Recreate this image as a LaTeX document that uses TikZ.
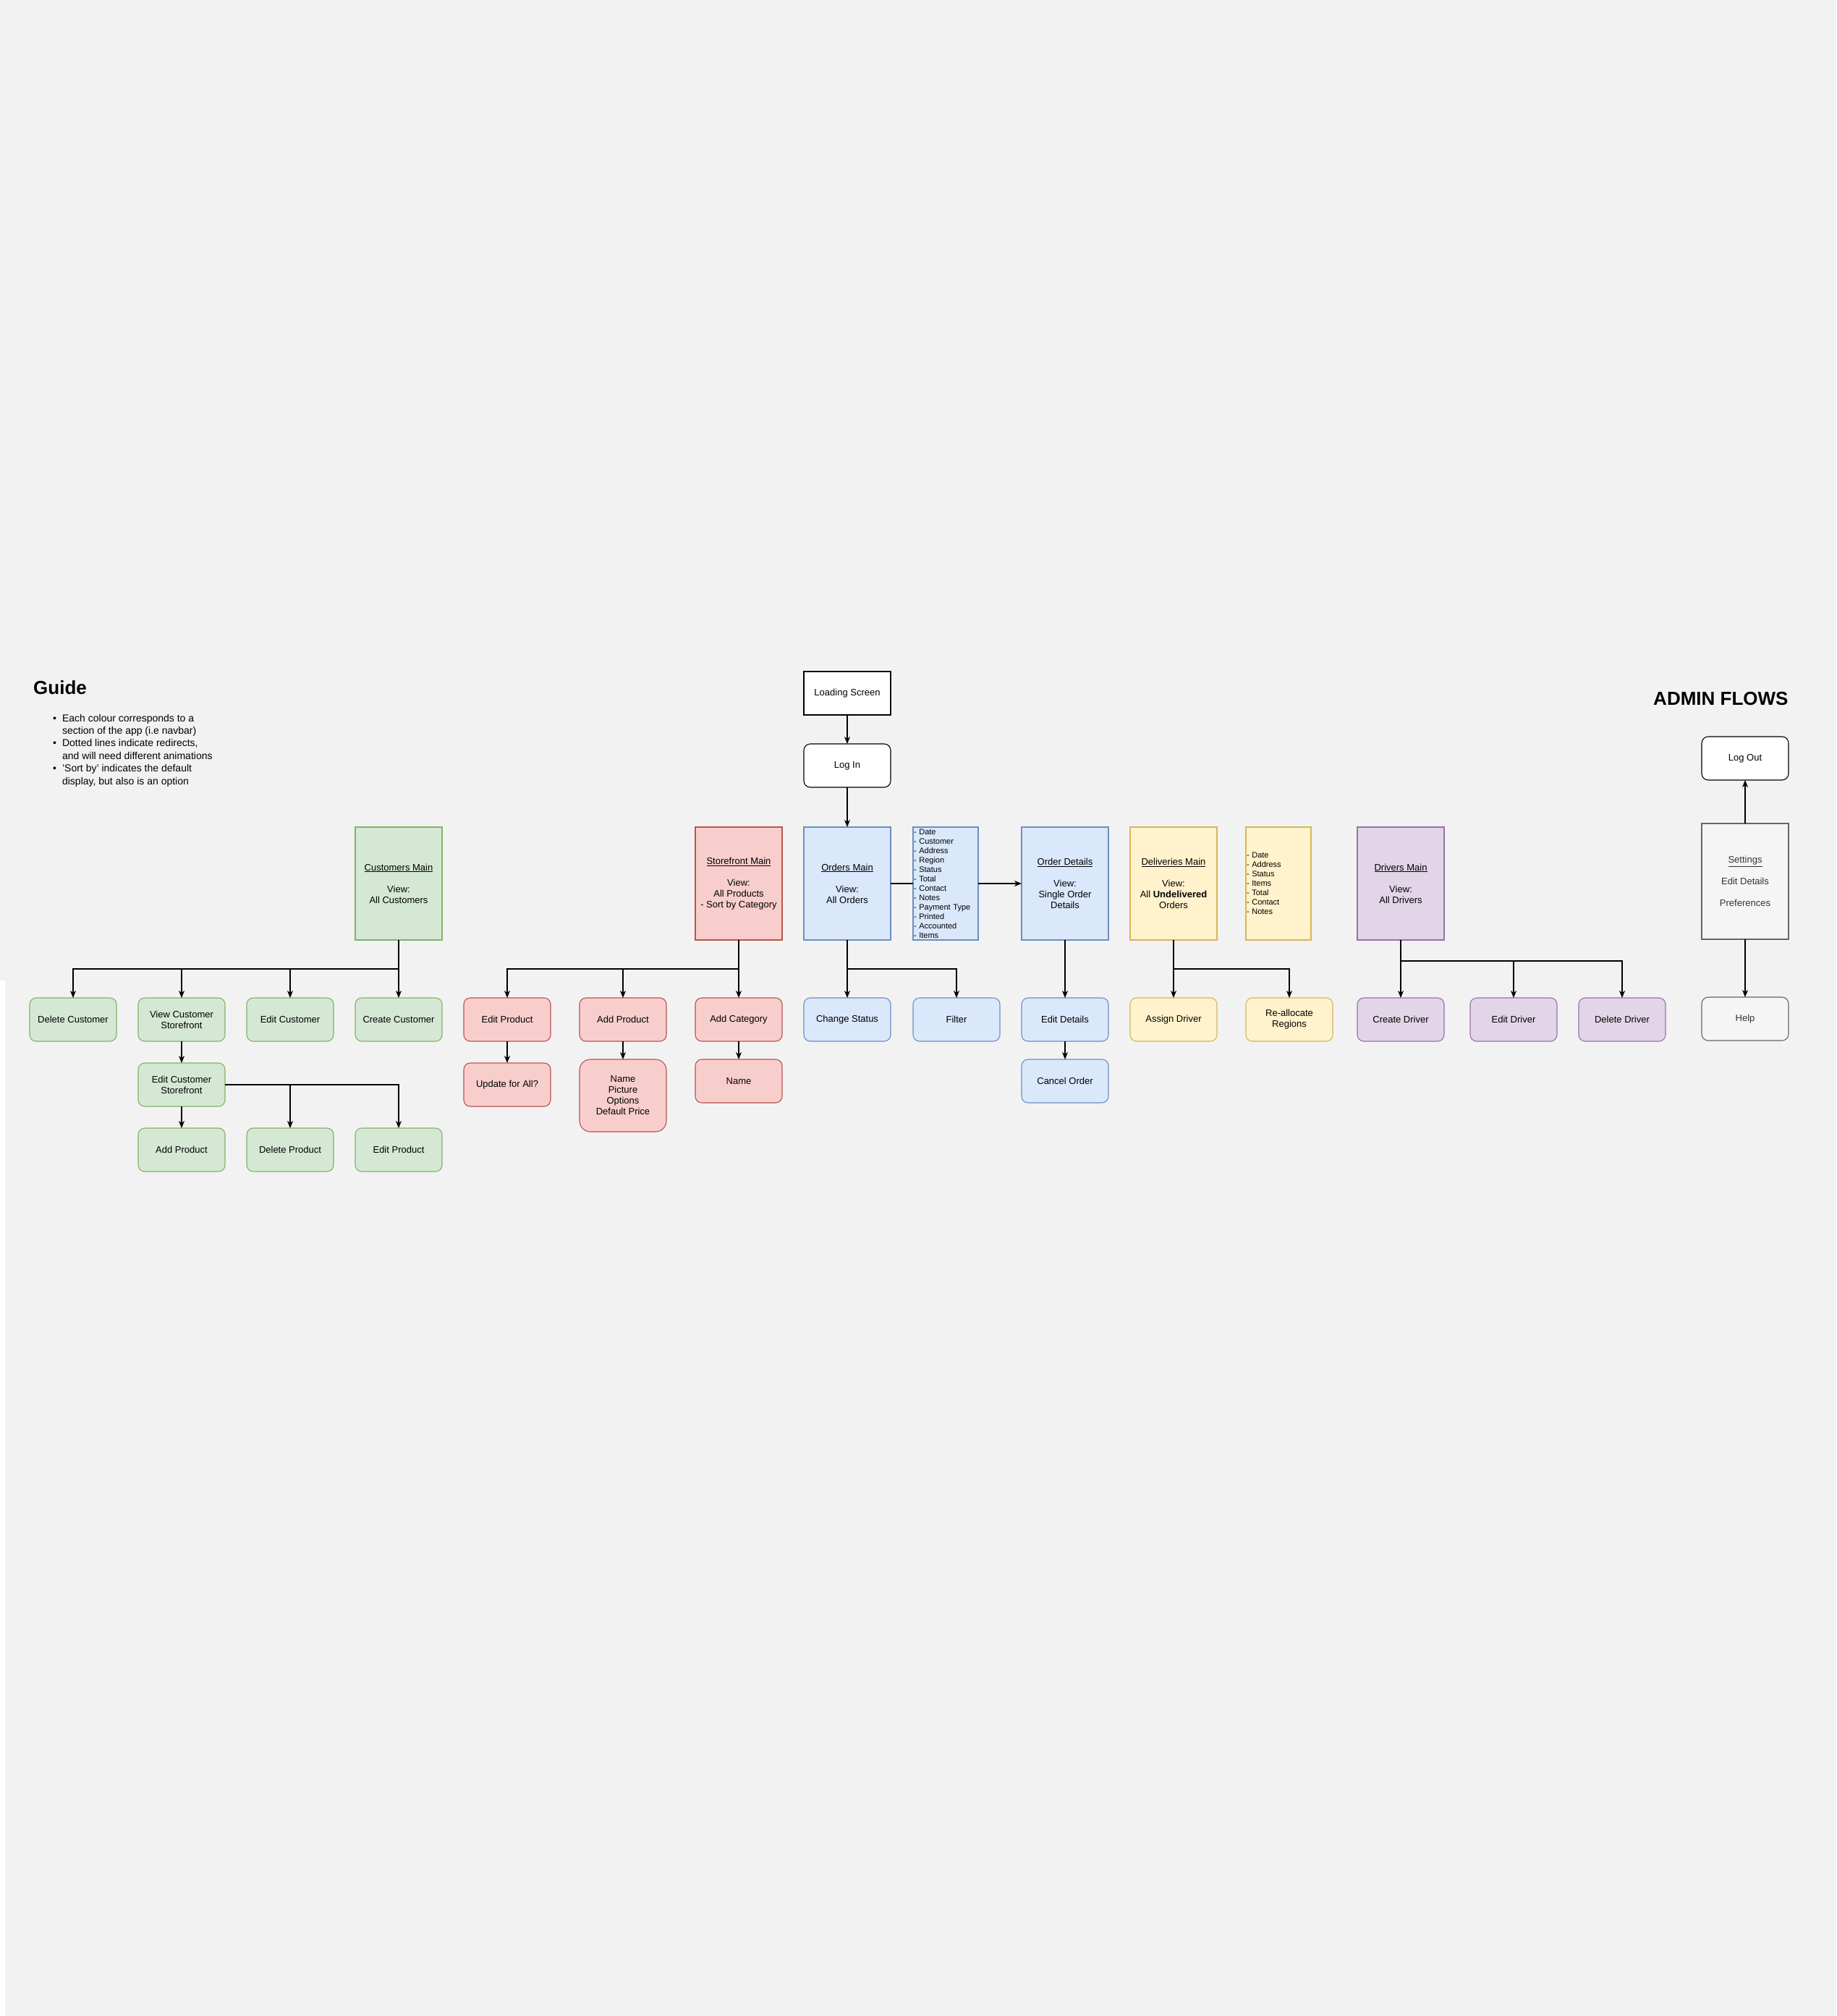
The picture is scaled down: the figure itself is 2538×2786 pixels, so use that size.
\documentclass[tikz,border=0pt]{standalone}
\usepackage{fontspec}
\setmainfont{Liberation Sans}
\usetikzlibrary{positioning,arrows.meta}
\definecolor{canvas}{HTML}{F2F2F2}
\definecolor{custfill}{HTML}{D5E8D4}
\definecolor{custline}{HTML}{82B366}
\definecolor{storefill}{HTML}{F8CECC}
\definecolor{storeline}{HTML}{B85450}
\definecolor{orderfill}{HTML}{DAE8FC}
\definecolor{orderline}{HTML}{6C8EBF}
\definecolor{delivfill}{HTML}{FFF2CC}
\definecolor{delivline}{HTML}{D6B656}
\definecolor{drivfill}{HTML}{E1D5E7}
\definecolor{drivline}{HTML}{9673A6}
\definecolor{setfill}{HTML}{F5F5F5}
\definecolor{setline}{HTML}{666666}
\definecolor{settext}{HTML}{333333}
\tikzset{
    page/.style = {
        draw, rectangle,
        line width=1.1pt,
        minimum width=120pt,
        minimum height=60pt,
        inner sep=2pt,
        outer sep=0pt,
        align=center,
        font=\fontsize{13}{15}\selectfont,
        },
    main page/.style = {
        page,
        minimum height=156pt,
        },
    list page/.style = {
        page,
        minimum width=90pt,
        minimum height=156pt,
        text width=88pt,
        inner xsep=1pt,
        align=left,
        font=\fontsize{11}{13}\selectfont,
        },
    action/.style = {
        page,
        rounded corners=9pt,
        },
    cust/.style = {
        fill=custfill, draw=custline,
        },
    store/.style = {
        fill=storefill, draw=storeline,
        },
    orders/.style = {
        fill=orderfill, draw=orderline,
        },
    deliv/.style = {
        fill=delivfill, draw=delivline,
        },
    driver/.style = {
        fill=drivfill, draw=drivline,
        },
    settings/.style = {
        fill=setfill, draw=setline, text=settext,
        },
    plain/.style = {
        fill=white, draw=black,
        },
    wire/.style = {
        line width=1.2pt,
        },
    flow/.style = {
        wire,
        -{Stealth[length=10pt,width=8pt,inset=3pt]},
        },
    heading/.style = {
        anchor=base west, inner sep=0pt,
        font=\fontsize{26}{30}\selectfont\bfseries,
        },
}

\begin{document}
\begin{tikzpicture}[x=1pt, y=-1pt]
    \useasboundingbox (0,0) rectangle (2538,2786);
    \fill[canvas] (0,0) rectangle (2538,2786);
    \fill[white] (0,1355) rectangle (7,2786);

    \node[heading] (guide) at (46,959) {Guide};
    \node[anchor=base west, inner sep=0pt, font=\fontsize{14}{17.4}\selectfont] (notes) at (73,997) {%
        \begin{tabular}[t]{@{}l@{\hspace{8pt}}l@{}}
            \textbullet & Each colour corresponds to a\\
                        & section of the app (i.e navbar)\\
            \textbullet & Dotted lines indicate redirects,\\
                        & and will need different animations\\
            \textbullet & 'Sort by' indicates the default\\
                        & display, but also is an option
        \end{tabular}};
    \node[heading] (title) at (2285,974) {ADMIN FLOWS};

    \node[main page, orders] (ordmain) at (1171,1221) {\underline{Orders Main}\\[15pt]View:\\All Orders};
    \node[list page, orders, right=31pt of ordmain] (ordlist) {- Date\\- Customer\\- Address\\- Region\\- Status\\- Total\\- Contact\\- Notes\\- Payment Type\\- Printed\\- Accounted\\- Items};
    \node[main page, orders, right=60pt of ordlist] (orddet) {\underline{Order Details}\\[15pt]View:\\Single Order\\Details};
    \node[main page, deliv, right=30pt of orddet] (delmain) {\underline{Deliveries Main}\\[15pt]View:\\All \textbf{Undelivered}\\Orders};
    \node[list page, deliv, right=40pt of delmain] (dellist) {- Date\\- Address\\- Status\\- Items\\- Total\\- Contact\\- Notes};
    \node[main page, driver, right=64pt of dellist] (drvmain) {\underline{Drivers Main}\\[15pt]View:\\All Drivers};
    \node[main page, store, left=30pt of ordmain] (stomain) {\underline{Storefront Main}\\[15pt]View:\\All Products\\- Sort by Category};
    \node[main page, cust, left=350pt of stomain] (custmain) {\underline{Customers Main}\\[15pt]View:\\All Customers};
    \node[main page, settings, minimum height=160pt] (setmain) at (2412,1218) {\underline{Settings}\\[15pt]Edit Details\\[15pt]Preferences};

    \node[action, plain, above=55pt of ordmain] (login) {Log In};
    \node[page, plain, above=40pt of login] (loading) {Loading Screen};
    \node[action, plain, above=60pt of setmain] (logout) {Log Out};
    \node[action, settings, below=80pt of setmain] (help) {Help};

    \node[action, cust, below=80pt of custmain] (newcust) {Create Customer};
    \node[action, cust, left=30pt of newcust] (editcust) {Edit Customer};
    \node[action, cust, left=30pt of editcust] (viewsf) {View Customer\\Storefront};
    \node[action, cust, left=30pt of viewsf] (delcust) {Delete Customer};
    \node[action, cust, below=30pt of viewsf] (editsf) {Edit Customer\\Storefront};
    \node[action, cust, below=30pt of editsf] (sfadd) {Add Product};
    \node[action, cust, right=30pt of sfadd] (sfdel) {Delete Product};
    \node[action, cust, right=30pt of sfdel] (sfedit) {Edit Product};

    \node[action, store, below=80pt of stomain] (addcat) {Add Category};
    \node[action, store, left=40pt of addcat] (addprod) {Add Product};
    \node[action, store, left=40pt of addprod] (editprod) {Edit Product};
    \node[action, store, below=30pt of editprod] (updall) {Update for All?};
    \node[action, store, minimum height=100pt, rounded corners=15pt, below=25pt of addprod] (prodfields) {Name\\Picture\\Options\\Default Price};
    \node[action, store, below=25pt of addcat] (catname) {Name};

    \node[action, orders, below=80pt of ordmain] (chstatus) {Change Status};
    \node[action, orders, right=31pt of chstatus] (filter) {Filter};
    \node[action, orders, below=80pt of orddet] (editdet) {Edit Details};
    \node[action, orders, below=25pt of editdet] (cancel) {Cancel Order};

    \node[action, deliv, below=80pt of delmain] (assign) {Assign Driver};
    \node[action, deliv, right=40pt of assign] (realloc) {Re-allocate\\Regions};

    \node[action, driver, below=80pt of drvmain] (newdrv) {Create Driver};
    \node[action, driver, right=36pt of newdrv] (editdrv) {Edit Driver};
    \node[action, driver, right=30pt of editdrv] (deldrv) {Delete Driver};

    \coordinate[below=40pt of custmain] (custfork);
    \coordinate[below=40pt of stomain] (stofork);
    \coordinate[below=40pt of ordmain] (ordfork);
    \coordinate[below=40pt of delmain] (delfork);
    \coordinate[below=29pt of drvmain] (drvfork);

    \draw[flow] (custmain) -- (newcust);
    \draw[flow] (custfork) -| (editcust);
    \draw[flow] (custfork) -| (viewsf);
    \draw[flow] (custfork) -| (delcust);
    \draw[flow] (viewsf) -- (editsf);
    \draw[flow] (editsf) -- (sfadd);
    \draw[flow] (editsf.east) -| (sfdel);
    \draw[flow] (editsf.east) -| (sfedit);

    \draw[flow] (stomain) -- (addcat);
    \draw[flow] (stofork) -| (addprod);
    \draw[flow] (stofork) -| (editprod);
    \draw[flow] (editprod) -- (updall);
    \draw[flow] (addprod) -- (prodfields);
    \draw[flow] (addcat) -- (catname);

    \draw[flow] (loading) -- (login);
    \draw[flow] (login) -- (ordmain);
    \draw[flow] (ordmain) -- (chstatus);
    \draw[flow] (ordfork) -| (filter);
    \draw[wire] (ordmain) -- (ordlist);
    \draw[flow] (ordlist) -- (orddet);
    \draw[flow] (orddet) -- (editdet);
    \draw[flow] (editdet) -- (cancel);

    \draw[flow] (delmain) -- (assign);
    \draw[flow] (delfork) -| (realloc);

    \draw[flow] (drvmain) -- (newdrv);
    \draw[flow] (drvfork) -| (editdrv);
    \draw[flow] (drvfork) -| (deldrv);

    \draw[flow] (setmain) -- (logout);
    \draw[flow] (setmain) -- (help);
\end{tikzpicture}
\end{document}
